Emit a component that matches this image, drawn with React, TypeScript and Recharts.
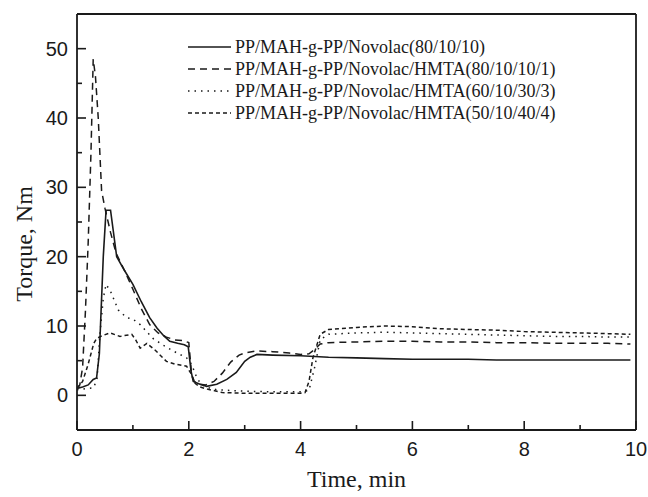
import React from 'react';
import { LineChart, Line, XAxis, YAxis, ReferenceLine, Legend, Label } from 'recharts';

// ---- data (time in min, torque in Nm) ----
const t1 = [0, 0.1, 0.2, 0.29, 0.35, 0.4, 0.47, 0.52, 0.6, 0.71, 0.85, 1.0, 1.15, 1.3, 1.43, 1.55, 1.66, 1.8, 1.92, 1.99, 2.04, 2.08, 2.2, 2.32, 2.5, 2.68, 2.85, 3.0, 3.1, 3.22, 3.5, 4.0, 4.5, 5.0, 5.5, 6.0, 6.5, 7.0, 7.5, 8.0, 8.5, 9.0, 9.5, 9.9];
const v1 = [1.0, 1.2, 1.5, 2.3, 2.5, 6, 20, 26.7, 26.7, 20.0, 18.0, 16.0, 13.5, 11.2, 9.7, 8.6, 7.8, 7.5, 7.3, 7.0, 3.5, 2.0, 1.6, 1.3, 1.6, 2.3, 3.3, 4.9, 5.5, 5.9, 5.8, 5.7, 5.5, 5.4, 5.3, 5.2, 5.2, 5.2, 5.1, 5.1, 5.1, 5.1, 5.1, 5.1];

const t2 = [0, 0.05, 0.1, 0.15, 0.2, 0.25, 0.29, 0.33, 0.38, 0.44, 0.5, 0.6, 0.7, 0.85, 1.0, 1.15, 1.3, 1.45, 1.6, 1.75, 1.9, 2.0, 2.05, 2.1, 2.2, 2.3, 2.45, 2.6, 2.75, 2.9, 3.0, 3.2, 3.5, 3.8, 4.0, 4.15, 4.25, 4.35, 4.5, 5.0, 5.5, 6.0, 6.5, 7.0, 7.5, 8.0, 8.5, 9.0, 9.5, 9.9];
const v2 = [1.0, 1.5, 4, 12, 22, 35, 48.5, 46, 40, 29.5, 27, 23.5, 20.5, 18, 15.3, 12.5, 10.2, 9.0, 8.4, 8.0, 7.9, 7.6, 3.0, 2.0, 1.6, 1.5, 2.0, 3.2, 4.8, 5.8, 6.1, 6.4, 6.3, 6.1, 5.9, 6.0, 6.6, 7.4, 7.6, 7.7, 7.8, 7.8, 7.7, 7.7, 7.6, 7.6, 7.5, 7.5, 7.5, 7.4];

const t3 = [0, 0.1, 0.2, 0.3, 0.36, 0.41, 0.47, 0.52, 0.6, 0.74, 0.89, 1.0, 1.13, 1.36, 1.55, 1.72, 1.96, 2.05, 2.12, 2.2, 2.3, 2.5, 3.0, 3.5, 4.0, 4.15, 4.25, 4.35, 4.5, 5.0, 5.5, 6.0, 6.5, 7.0, 7.5, 8.0, 8.5, 9.0, 9.5, 9.9];
const v3 = [0.8, 0.9, 1.0, 1.1, 2.5, 8.8, 14, 16, 15, 12.3, 11.2, 11.0, 10.2, 8.2, 7.2, 6.4, 5.4, 4.5, 3.0, 1.8, 1.2, 0.8, 0.6, 0.5, 0.5, 0.7, 4.0, 8.0, 8.8, 9.0, 9.1, 9.0, 8.9, 8.8, 8.7, 8.6, 8.5, 8.5, 8.4, 8.4];

const t4 = [0, 0.1, 0.2, 0.3, 0.35, 0.45, 0.59, 0.77, 0.98, 1.05, 1.13, 1.25, 1.4, 1.6, 1.75, 1.96, 2.05, 2.1, 2.2, 2.33, 2.6, 3.0, 3.5, 4.0, 4.08, 4.15, 4.22, 4.35, 4.5, 5.0, 5.5, 6.0, 6.5, 7.0, 7.5, 8.0, 8.5, 9.0, 9.5, 9.9];
const v4 = [1.0, 2.0, 4.5, 7.5, 8.2, 8.6, 9.0, 8.5, 8.8, 8.0, 6.8, 7.5, 6.5, 4.9, 4.5, 4.2, 3.0, 1.8, 1.2, 0.9, 0.4, 0.3, 0.3, 0.3, 0.4, 2.0, 5.4, 8.8, 9.5, 9.8, 10.0, 9.9, 9.6, 9.5, 9.4, 9.2, 9.1, 9.0, 8.9, 8.8];

const seriesNames = [
  'PP/MAH-g-PP/Novolac(80/10/10)',
  'PP/MAH-g-PP/Novolac/HMTA(80/10/10/1)',
  'PP/MAH-g-PP/Novolac/HMTA(60/10/30/3)',
  'PP/MAH-g-PP/Novolac/HMTA(50/10/40/4)',
];
const xTicks = [0, 1, 2, 3, 4, 5, 6, 7, 8, 9, 10];
const yTicks = [0, 5, 10, 15, 20, 25, 30, 35, 40, 45, 50];

// ---- styling ----
const INK = '#1a1a1a';
const SERIF = '"Liberation Serif", "Times New Roman", serif';
const SANS = '"Liberation Sans", Arial, sans-serif';
const dashes = [undefined, '7 5', '1.5 5', '4 3'];

const toPoints = (ts: number[], vs: number[]) => ts.map((t, i) => ({ t, v: vs[i] }));
const series = [toPoints(t1, v1), toPoints(t2, v2), toPoints(t3, v3), toPoints(t4, v4)];

const X_TICK_SIZE = 10;
const Y_TICK_SIZE = 7;
const TICK_MARGIN = 2;

const XTick = (p: any) => {
  const { x, y, payload } = p;
  const val = payload.value;
  const major = val % 2 === 0;
  const axisY = y - X_TICK_SIZE - TICK_MARGIN;
  return (
    <g>
      <line x1={x} x2={x} y1={axisY} y2={axisY - (major ? 9 : 5)} stroke={INK} strokeWidth={1.6} />
      {major && (
        <text x={x} y={y} dy="0.71em" textAnchor="middle" fontFamily={SANS} fontSize={20} fill={INK}>
          {val}
        </text>
      )}
    </g>
  );
};

const YTick = (p: any) => {
  const { x, y, payload } = p;
  const val = payload.value;
  const major = val % 10 === 0;
  const axisX = x + Y_TICK_SIZE + TICK_MARGIN;
  return (
    <g>
      <line x1={axisX} x2={axisX + (major ? 9 : 5)} y1={y} y2={y} stroke={INK} strokeWidth={1.6} />
      {major && (
        <text x={x} y={y} dy="0.355em" textAnchor="end" fontFamily={SANS} fontSize={20} fill={INK}>
          {val}
        </text>
      )}
    </g>
  );
};

const LegendBox = () => (
  <svg width={460} height={100}>
    {seriesNames.map((name, i) => {
      const cy = 13 + i * 22;
      return (
        <g key={name}>
          <line x1={8} x2={51} y1={cy} y2={cy} stroke={INK} strokeWidth={1.5} strokeDasharray={dashes[i]} />
          <text x={55} y={cy} dy="0.35em" fontFamily={SERIF} fontSize={18} fill={INK}>
            {name}
          </text>
        </g>
      );
    })}
  </svg>
);

export default function App() {
  return (
    <div style={{ position: 'absolute', left: 0, top: 0, width: 648, height: 497, background: '#fff', overflow: 'hidden' }}>
      <LineChart width={648} height={497} margin={{ top: 14, right: 12, bottom: 0, left: 0 }}>
        <XAxis
          dataKey="t"
          type="number"
          domain={[0, 10]}
          ticks={xTicks}
          interval={0}
          allowDataOverflow
          height={67}
          tickSize={X_TICK_SIZE}
          tickMargin={TICK_MARGIN}
          tickLine={false}
          axisLine={{ stroke: INK, strokeWidth: 1.8 }}
          tick={<XTick />}
        >
          <Label
            content={(props: any) => {
              const vb = props.viewBox;
              return (
                <text x={vb.x + vb.width / 2} y={vb.y + 57} textAnchor="middle" fontFamily={SERIF} fontSize={24} fill={INK}>
                  Time, min
                </text>
              );
            }}
          />
        </XAxis>
        <YAxis
          type="number"
          domain={[-5, 55]}
          ticks={yTicks}
          interval={0}
          allowDataOverflow
          width={77}
          tickSize={Y_TICK_SIZE}
          tickMargin={TICK_MARGIN}
          tickLine={false}
          axisLine={{ stroke: INK, strokeWidth: 1.8 }}
          tick={<YTick />}
        >
          <Label
            content={(props: any) => {
              const vb = props.viewBox;
              const cx = vb.x + 24;
              const cy = vb.y + vb.height / 2 + 22;
              return (
                <text
                  x={cx}
                  y={cy}
                  dy="0.35em"
                  textAnchor="middle"
                  transform={`rotate(-90, ${cx}, ${cy})`}
                  fontFamily={SERIF}
                  fontSize={24}
                  fill={INK}
                >
                  Torque, Nm
                </text>
              );
            }}
          />
        </YAxis>
        <ReferenceLine x={10} stroke={INK} strokeWidth={1.8} />
        <ReferenceLine y={55} stroke={INK} strokeWidth={1.8} />
        {series.map((pts, i) => (
          <Line
            key={seriesNames[i]}
            data={pts}
            dataKey="v"
            name={seriesNames[i]}
            type="linear"
            dot={false}
            activeDot={false}
            stroke={INK}
            strokeWidth={i === 0 ? 1.6 : 1.5}
            strokeDasharray={dashes[i]}
            isAnimationActive={false}
          />
        ))}
        <Legend
          layout="horizontal"
          verticalAlign="middle"
          align="center"
          content={() => <LegendBox />}
          wrapperStyle={{ position: 'absolute', left: 180, top: 34, width: 460, height: 100 }}
        />
      </LineChart>
    </div>
  );
}
